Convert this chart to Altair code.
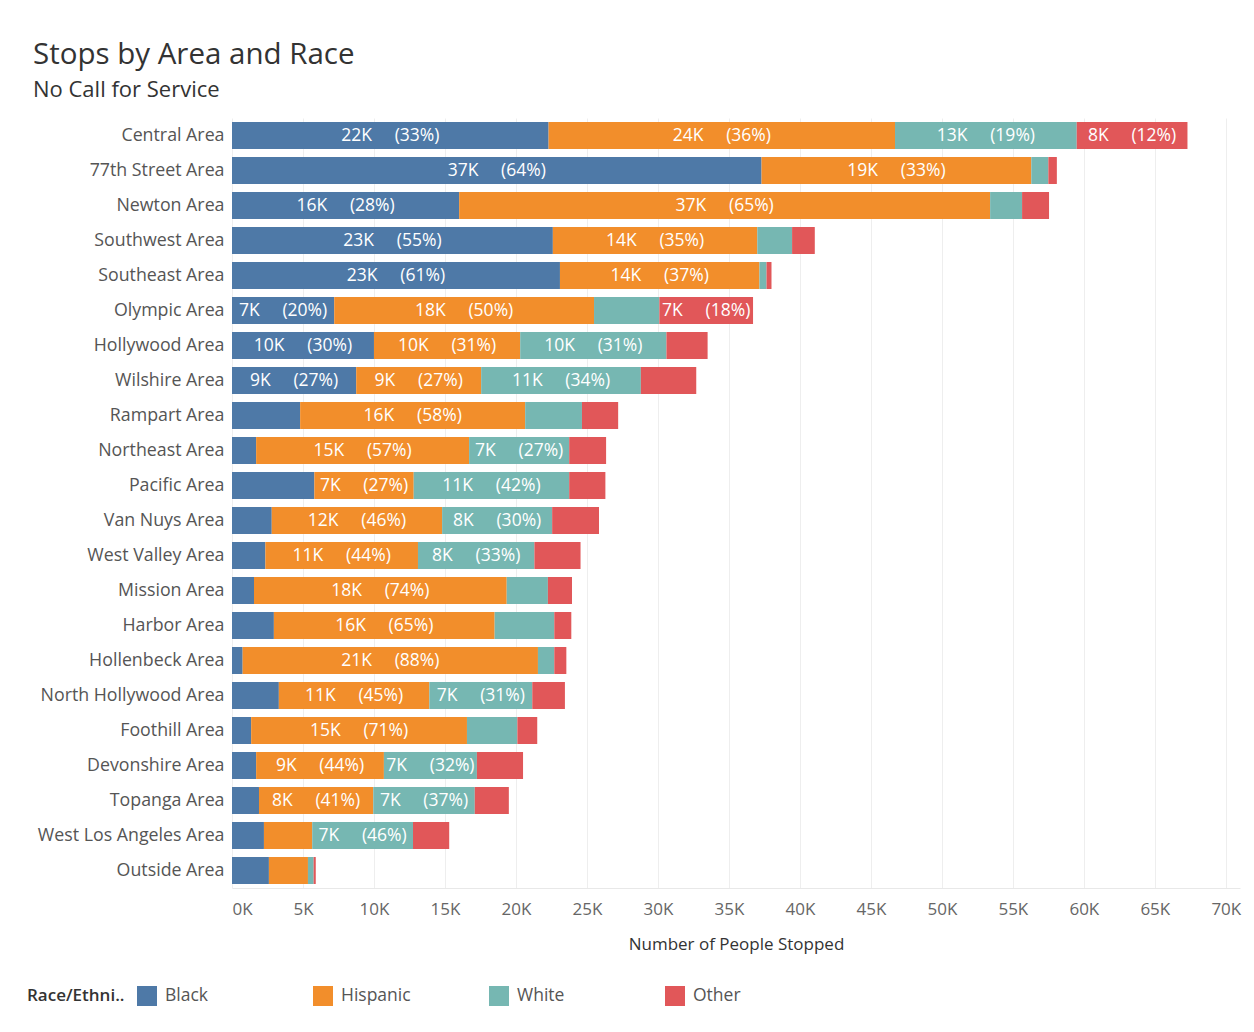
import altair as alt
import pandas as pd

areas = ["Central Area", "77th Street Area", "Newton Area", "Southwest Area", "Southeast Area",
         "Olympic Area", "Hollywood Area", "Wilshire Area", "Rampart Area", "Northeast Area",
         "Pacific Area", "Van Nuys Area", "West Valley Area", "Mission Area", "Harbor Area",
         "Hollenbeck Area", "North Hollywood Area", "Foothill Area", "Devonshire Area",
         "Topanga Area", "West Los Angeles Area", "Outside Area"]
races = ["Black", "Hispanic", "White", "Other"]
black = [22300, 37300, 16000, 22600, 23100, 7200, 10000, 8750, 4800, 1700, 5800, 2800, 2350,
         1550, 2950, 750, 3300, 1350, 1700, 1900, 2250, 2600]
hispanic = [24400, 19000, 37400, 14400, 14050, 18300, 10300, 8800, 15850, 15000, 7000, 12000,
            10750, 17800, 15550, 20800, 10600, 15200, 9000, 8050, 3400, 2750]
white = [12800, 1200, 2250, 2450, 500, 4600, 10300, 11250, 4000, 7050, 10950, 7750, 8200,
         2900, 4200, 1150, 7250, 3550, 6550, 7150, 7100, 400]
other = [7800, 600, 1900, 1600, 350, 6600, 2900, 3900, 2550, 2600, 2550, 3300, 3250, 1700,
         1200, 850, 2300, 1400, 3250, 2400, 2550, 150]
colors = ["#4e79a7", "#f28e2b", "#76b7b2", "#e15759"]
x_ticks = list(range(0, 70001, 5000))

rows = []
for i, a in enumerate(areas):
    for j, (r, vals) in enumerate(zip(races, [black, hispanic, white, other])):
        rows.append({"area": a, "race": r, "order": j, "value": vals[i]})
df = pd.DataFrame(rows)

FONT = "Open Sans"
NB = "\u00a0"

y_enc = alt.Y("area:N", sort=areas, title=None,
              scale=alt.Scale(paddingInner=0.23, paddingOuter=0.115),
              axis=alt.Axis(labelFontSize=17.8, labelColor="#555555", labelPadding=8,
                            ticks=False, domain=False, labelFont=FONT, labelLimit=300))

x_axis = alt.Axis(values=x_ticks, labelExpr="datum.value/1000 + 'K'", labelFontSize=17,
                  labelColor="#666666", labelFont=FONT, labelFlush=True, labelPadding=13,
                  grid=True, gridColor="#eeeeee", ticks=False, domain=True,
                  domainColor="#e8e8e8", title="Number of People Stopped",
                  titleFontSize=17, titleFont=FONT, titleColor="#333333",
                  titleFontWeight="normal", titlePadding=19)

base = alt.Chart(df)

bars = base.mark_bar().encode(
    x=alt.X("value:Q", stack="zero", scale=alt.Scale(domain=[0, 71000], nice=False), axis=x_axis),
    y=y_enc,
    color=alt.Color("race:N", scale=alt.Scale(domain=races, range=colors),
                    legend=alt.Legend(title="Race/Ethni..", orient="none", legendX=-205,
                                      legendY=868, direction="horizontal", columns=4,
                                      gridAlign="all", columnPadding=78,
                                      titleOrient="left", titleFontSize=17,
                                      titleFont=FONT, titleFontWeight=600,
                                      titleColor="#333333", titlePadding=12,
                                      labelFontSize=17.5, labelFont=FONT,
                                      labelColor="#555555", labelOffset=8,
                                      symbolType="square", symbolSize=400,
                                      symbolStrokeWidth=0, symbolOpacity=1)),
    order=alt.Order("order:Q", sort="ascending"),
)

labels = base.transform_joinaggregate(
    total="sum(value)", groupby=["area"]
).transform_window(
    cum="sum(value)", groupby=["area"], sort=[alt.SortField("order", order="ascending")],
    frame=[None, 0]
).transform_calculate(
    mid="datum.cum - datum.value/2",
    label=f"format(datum.value/1000, '.0f') + 'K{NB*5}(' + format(datum.value/datum.total, '.0%') + ')'"
).transform_filter(
    "datum.value >= 6000"
).mark_text(color="white", fontSize=17.5, font=FONT, align="center", baseline="middle").encode(
    x=alt.X("mid:Q", scale=alt.Scale(domain=[0, 71000], nice=False)),
    y=alt.Y("area:N", sort=areas),
    text="label:N",
)

chart = (bars + labels).properties(
    width=1008, height=770,
    title=alt.TitleParams("Stops by Area and Race", subtitle="No Call for Service",
                          anchor="start", frame="group", dx=-199, offset=16,
                          fontSize=29.5, subtitleFontSize=22, font=FONT, subtitleFont=FONT,
                          color="#333333", subtitleColor="#333333", fontWeight="normal",
                          subtitlePadding=10),
    autosize=alt.AutoSizeParams(type="none"),
    padding={"left": 224, "top": 110, "right": 6, "bottom": 130},
).configure_view(stroke=None)

chart.save("out.html", embed_options={"renderer": "svg", "actions": False})
